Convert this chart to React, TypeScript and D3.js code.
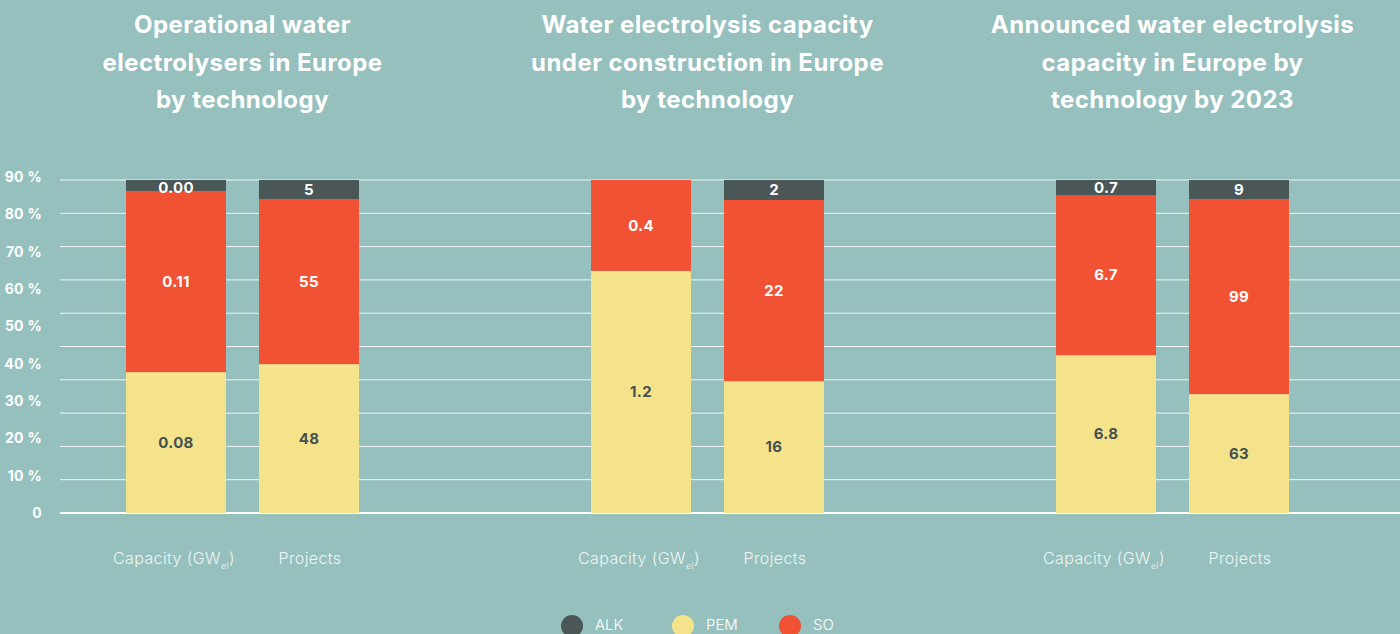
import React from "react";
import * as d3 from "d3";

const groups = ["Operational", "Construction", "Announced"];
const titles = [
  ["Operational water", "electrolysers in Europe", "by technology"],
  ["Water electrolysis capacity", "under construction in Europe", "by technology"],
  ["Announced water electrolysis", "capacity in Europe by", "technology by 2023"],
];
const barKinds = ["Capacity", "Projects"];
const series = ["PEM", "SO", "ALK"];
// shares (%), per group then bar
const pemShare = [[42.3, 44.7], [72.7, 39.6], [47.4, 35.7]];
const soShare = [[54.4, 49.6], [27.3, 54.4], [48.0, 58.6]];
const alkShare = [[3.3, 5.7], [0, 6.0], [4.6, 5.7]];
const pemLabels = [["0.08", "48"], ["1.2", "16"], ["6.8", "63"]];
const soLabels = [["0.11", "55"], ["0.4", "22"], ["6.7", "99"]];
const alkLabels = [["0.00", "5"], ["", "2"], ["0.7", "9"]];
const gridTicks = [0, 10, 20, 30, 40, 50, 60, 70, 80, 90, 100];
const axisLabels = [0, 10, 20, 30, 40, 50, 60, 70, 80, 90];
const legendItems = ["ALK", "PEM", "SO"];

const colors: Record<string, string> = { ALK: "#4a5756", PEM: "#f4e38b", SO: "#f05233" };
const labelColors: Record<string, string> = { ALK: "#ffffff", PEM: "#45504f", SO: "#ffffff" };
const BG = "#96c0bd";
const FONT = "Inter, 'Open Sans', sans-serif";

export default function App() {
  const W = 1400, H = 634;
  const top = 180, bottom = 513;
  const y = d3.scaleLinear().domain([0, 100]).range([bottom, top]);
  const yLab = d3.scaleLinear().domain([0, 90]).range([bottom, top - 3]);
  const gx = d3.scaleBand<string>().domain(groups).range([10, 1405]).padding(0);

  const shares = [pemShare, soShare, alkShare];
  const labels = [pemLabels, soLabels, alkLabels];

  return (
    <svg width={W} height={H} style={{ display: "block", position: "absolute", left: 0, top: 0, background: BG }}>
      <rect x={0} y={0} width={W} height={H} fill={BG} />
      {gridTicks.map((t) => (
        <line key={t} x1={60} x2={W} y1={y(t)} y2={y(t)} stroke="#ffffff" strokeOpacity={t === 0 ? 1 : 0.85} strokeWidth={t === 0 ? 2 : 1} />
      ))}
      {axisLabels.map((t) => (
        <text key={t} x={42} y={yLab(t)} dy="0.35em" textAnchor="end" fill="#ffffff" fontFamily={FONT} fontWeight={700} fontSize={14} letterSpacing={0.3}>
          {t === 0 ? "0" : `${t} %`}
        </text>
      ))}
      {groups.map((g, gi) => {
        const cx = (gx(g) as number) + gx.bandwidth() / 2;
        const bx = d3.scaleBand<string>().domain(barKinds).range([cx - 116.5, cx + 116.5]).paddingInner(33 / 133).paddingOuter(0);
        return (
          <g key={g}>
            {titles[gi].map((line, li) => (
              <text key={li} x={cx} y={25 + li * 37.5} dy="0.35em" textAnchor="middle" fill="#ffffff" fontFamily={FONT} fontWeight={700} fontSize={24} letterSpacing={0.45}>
                {line}
              </text>
            ))}
            {barKinds.map((b, bi) => {
              const x0 = bx(b) as number;
              const bw = bx.bandwidth();
              let cum = 0;
              const segs = series.map((s, si) => {
                const v = shares[si][gi][bi];
                const y0 = cum;
                cum += v;
                return { s, v, y0, y1: cum, lab: labels[si][gi][bi] };
              });
              return (
                <g key={b}>
                  {segs.map((sg) =>
                    sg.v > 0 ? (
                      <rect key={sg.s} x={x0} width={bw} y={y(sg.y1)} height={y(sg.y0) - y(sg.y1)} fill={colors[sg.s]} />
                    ) : null
                  )}
                  {segs.map((sg) =>
                    sg.v > 0 && sg.lab ? (
                      <text
                        key={sg.s + "l"}
                        x={x0 + bw / 2}
                        y={sg.s === "ALK" ? Math.max(y(sg.y1) + 8, y((sg.y0 + sg.y1) / 2)) : y((sg.y0 + sg.y1) / 2)}
                        dy="0.35em"
                        textAnchor="middle"
                        fill={labelColors[sg.s]}
                        fontFamily={FONT}
                        fontWeight={700}
                        fontSize={15}
                        letterSpacing={0.3}
                      >
                        {sg.lab}
                      </text>
                    ) : null
                  )}
                  <text x={x0 + bw / 2 + (bi === 0 ? -2 : 1)} y={558} dy="0.35em" textAnchor="middle" fill="#eef5f4" fontFamily={FONT} fontWeight={300} fontSize={16} letterSpacing={0.4}>
                    {b === "Capacity" ? (
                      <>
                        Capacity (GW
                        <tspan fontSize={9} dy={5}>el</tspan>
                        <tspan dy={-5}>)</tspan>
                      </>
                    ) : (
                      "Projects"
                    )}
                  </text>
                </g>
              );
            })}
          </g>
        );
      })}
      {legendItems.map((s, i) => {
        const lx = [572, 683, 790][i];
        return (
          <g key={s}>
            <circle cx={lx} cy={626} r={11} fill={colors[s]} />
            <text x={lx + 23} y={625} dy="0.35em" fill="#ffffff" fontFamily={FONT} fontWeight={300} fontSize={15}>
              {s}
            </text>
          </g>
        );
      })}
    </svg>
  );
}
